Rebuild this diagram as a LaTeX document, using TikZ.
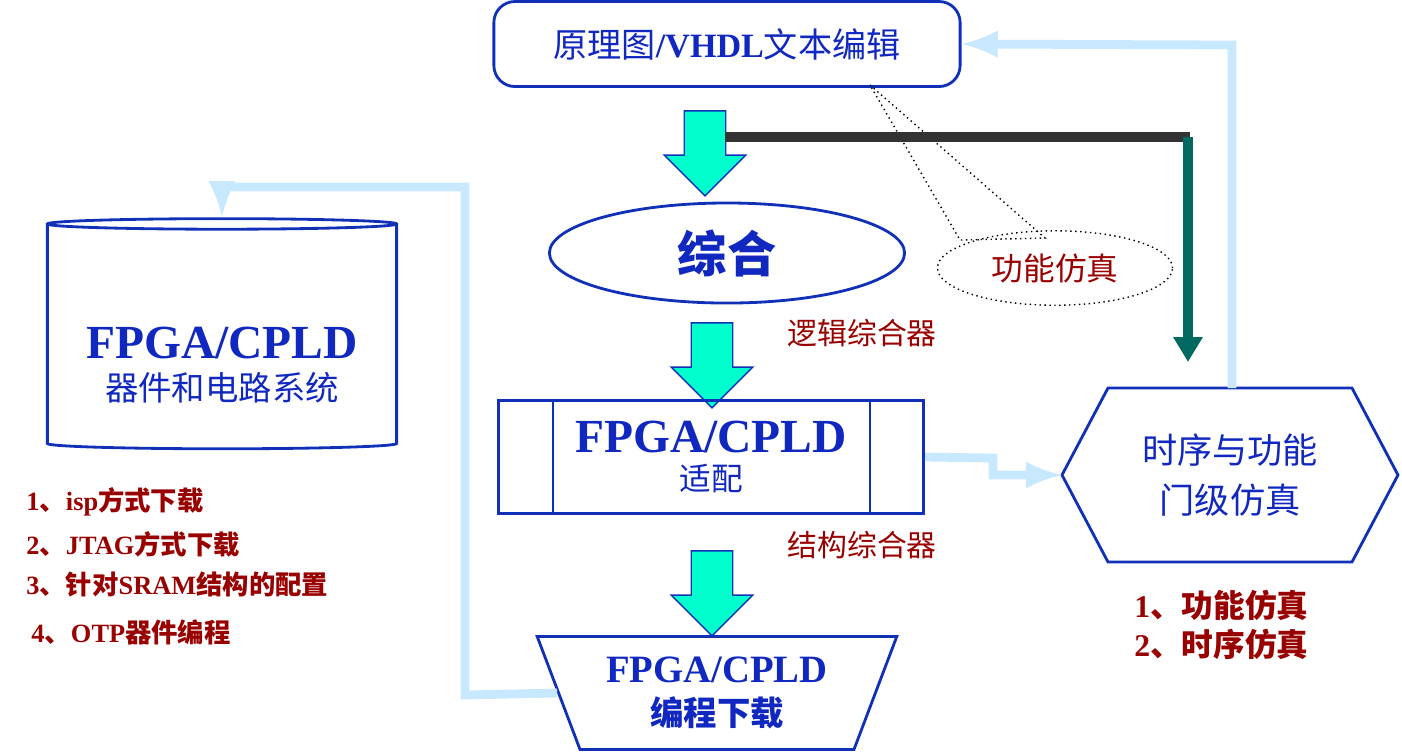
\documentclass[tikz,border=0pt]{standalone}
\usepackage{fontspec}
\setmainfont{Liberation Serif}
\newfontfamily\cjk{Noto Sans CJK SC}
\usetikzlibrary{shapes.geometric,shapes.arrows,positioning,arrows.meta}
\definecolor{navy}{HTML}{1030B8}
\definecolor{txtblue}{HTML}{1028C0}
\definecolor{dred}{HTML}{990000}
\definecolor{aqua}{HTML}{00FFCC}
\definecolor{pale}{HTML}{C8E8FF}
\definecolor{teal2}{HTML}{006A60}
\newcommand{\zh}[1]{{\cjk #1}}
\tikzset{
  box/.style={draw=navy,thick,text=txtblue,align=center},
  flow/.style={single arrow,draw=navy,fill=aqua,rotate=-90,minimum height=0.85cm,
    minimum width=0.8cm,single arrow head extend=0.2cm,inner sep=0.2cm},
  back/.style={draw=pale,line width=2.5pt,-latex},
  note/.style={text=dred,font=\fontsize{8.5}{10}\selectfont},
  lst/.style={text=dred,font=\bfseries\fontsize{7.5}{9}\selectfont,anchor=west},
}
\begin{document}
\begin{tikzpicture}[x=0.01cm,y=-0.01cm]
\useasboundingbox (0,0) rectangle (1402,753);
  % main flow
  \node[box,rounded corners=6pt,minimum width=4.66cm,minimum height=0.85cm,
        font=\fontsize{9.7}{11}\selectfont] (edit) at (727,44)
        {\zh{原理图}\textbf{/VHDL}\zh{文本编辑}};
  \node[flow] (a1) at (705,143) {};
  \node[box,ellipse,minimum width=3.55cm,minimum height=1cm,
        font=\bfseries\fontsize{14}{16}\selectfont] (syn) at (727,253) {\zh{综合}};
  \node[flow] (a2) at (712,355) {};
  \node[note,anchor=west] (lsyn) at (775,333) {\zh{逻辑综合器}};
  \node[box,minimum width=4.25cm,minimum height=1.13cm] (fit) at (711,457)
        {\textbf{\fontsize{13.5}{15}\selectfont FPGA/CPLD}\\[-1pt]\fontsize{9}{11}\selectfont\zh{适配}};
  \draw[navy,thick] (553,400) -- (553,513) (870,400) -- (870,513);
  \node[flow] (a3) at (712,583) {};
  \node[note,anchor=west] (ssyn) at (775,545) {\zh{结构综合器}};
  \node[box,trapezium,shape border rotate=180,trapezium stretches=true,
        minimum width=3.61cm,minimum height=1.13cm,trapezium left angle=68,
        trapezium right angle=68] (load) at (717,693)
        {\textbf{\fontsize{11}{13}\selectfont FPGA/CPLD}\\\fontsize{9.5}{11}\selectfont\textbf{\zh{编程下载}}};
  % simulation
  \node[box,draw=none,font=\fontsize{10}{14}\selectfont] (sim) at (1230,475)
        {\zh{时序与功能}\\\zh{门级仿真}};
  \draw[navy,thick] (1062,475) -- (1108,388) -- (1352,388) -- (1398,475)
        -- (1352,562) -- (1108,562) -- cycle;
  \coordinate (simw) at (1062,475);
  \coordinate (simn) at (1232,388);
  \node[ellipse,draw,densely dotted,minimum width=2.35cm,minimum height=0.6cm,
        text=dred,font=\fontsize{9}{11}\selectfont] (func) at (1055,268) {\zh{功能仿真}};
  \draw[densely dotted] (870,85) -- (1045,238) -- (960,240) -- (870,85);
  \coordinate (j) at (725,137);
  \draw[line width=3pt,black!80] (j) -- (1190,137);
  \draw[line width=3pt,teal2,-{Triangle[length=0.25cm,width=0.28cm]}] (1188,137) -- (1188,362);
  \node[note,font=\bfseries\fontsize{9}{11}\selectfont,align=left,anchor=north west]
        (slist) at (1122,578) {1\zh{、功能仿真}\\2\zh{、时序仿真}};
  % device
  \node[box,cylinder,shape border rotate=90,aspect=0.45,minimum width=3.49cm,
        minimum height=2.3cm] (dev) at (222,338) {};
  \node[box,draw=none] (devtxt) at (222,365)
        {\textbf{\fontsize{13.5}{15}\selectfont FPGA/CPLD}\\\fontsize{9.5}{12}\selectfont\zh{器件和电路系统}};
  \node[lst] (l1) at (14,502) {1\zh{、}isp\zh{方式下载}};
  \node[lst] (l2) at (14,544) {2\zh{、}JTAG\zh{方式下载}};
  \node[lst] (l3) at (14,584) {3\zh{、针对}SRAM\zh{结构的配置}};
  \node[lst] (l4) at (19,632) {4\zh{、}OTP\zh{器件编程}};
  % feedback
  \draw[back] (fit.east) -- (993,458) -- (993,475) -- (simw);
  \draw[back] (simn) -- (1232,45) -- (edit.east);
  \draw[back] (load.west) -- (465,695) -- (465,187) -- (222,187) -- (dev.north);
\end{tikzpicture}
\end{document}
